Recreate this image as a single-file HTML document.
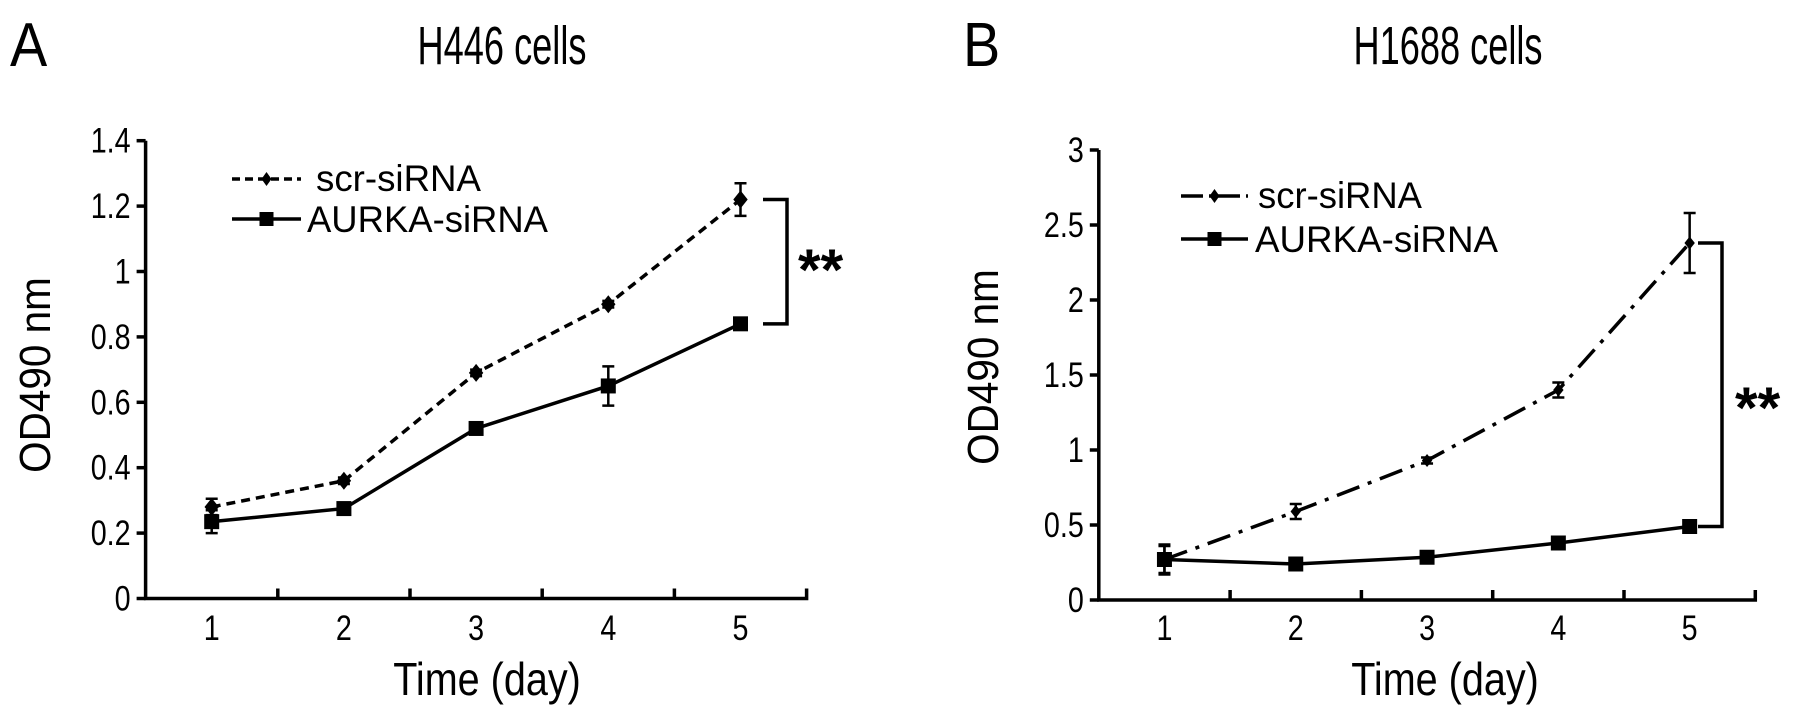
<!DOCTYPE html>
<html><head><meta charset="utf-8">
<style>
html,body{margin:0;padding:0;background:#fff;}
svg{display:block;font-family:"Liberation Sans",Arial,sans-serif;}
</style></head>
<body>
<svg id="fig" width="1795" height="717" viewBox="0 0 1795 717">
</svg>
<script>
// ---- data ----
const days = [1, 2, 3, 4, 5];
const aTicks = [0, 0.2, 0.4, 0.6, 0.8, 1, 1.2, 1.4];
const aTickLabels = ["0", "0.2", "0.4", "0.6", "0.8", "1", "1.2", "1.4"];
const aScr = [0.28, 0.36, 0.69, 0.90, 1.22];
const aScrErr = [0.025, 0.01, 0.01, 0.01, 0.05];
const aAur = [0.235, 0.275, 0.52, 0.65, 0.84];
const aAurErr = [0.035, 0.01, 0.01, 0.06, 0.01];
const bTicks = [0, 0.5, 1, 1.5, 2, 2.5, 3];
const bTickLabels = ["0", "0.5", "1", "1.5", "2", "2.5", "3"];
const bScr = [0.27, 0.59, 0.93, 1.40, 2.38];
const bScrErr = [0.1, 0.05, 0.02, 0.05, 0.2];
const bAur = [0.27, 0.24, 0.285, 0.38, 0.49];
const bAurErr = [0.09, 0.01, 0.01, 0.01, 0.01];

const NS = "http://www.w3.org/2000/svg";
const svg = document.getElementById("fig");
function mk(tag, attrs, parent) {
  const e = document.createElementNS(NS, tag);
  for (const k in attrs) e.setAttribute(k, attrs[k]);
  (parent || svg).appendChild(e);
  return e;
}
function txt(s, attrs, parent) { const t = mk("text", attrs, parent); t.textContent = s; return t; }
// condensed text: scaled horizontally around its anchor point
function ctxt(s, x, y, size, anchor, sx, parent) {
  return txt(s, {x: 0, y: 0, "font-size": size, "text-anchor": anchor, fill: "#000",
    transform: `translate(${x},${y}) scale(${sx},1)`}, parent);
}

function panel(cfg) {
  const g = mk("g", {});
  
  
  const x0 = cfg.x0, x1 = cfg.x1, y0 = cfg.y0, yTop = cfg.yTop, vmax = cfg.vmax;
  const n = days.length, step = (x1 - x0) / n;
  const X = d => x0 + (d - 0.5) * step;
  const Y = v => y0 - v / vmax * (y0 - yTop);

  // letter & title
  const L = ctxt(cfg.letter, cfg.letterX, 66, 62, "start", 0.9, g);
  
  
  const T = ctxt(cfg.title, cfg.titleX, 64, 54, "middle", 0.67, g);
  
  

  // axes
  const ax = mk("path", {d: `M${x0},${yTop} V${y0} H${x1} V${y0-10}`, stroke: "#000", "stroke-width": 3.5, fill: "none"}, g);
  
  
  cfg.ticks.forEach((v, i) => {
    mk("line", {x1: x0 - 9, x2: x0, y1: Y(v), y2: Y(v), stroke: "#000", "stroke-width": 3.5}, g);
    const t = ctxt(cfg.tickLabels[i], x0 - 15, Y(v) + 12, 35, "end", 0.82, g);
    
    
  });
  for (let i = 1; i < n; i++) {
    mk("line", {x1: x0 + i * step, x2: x0 + i * step, y1: y0, y2: y0 - 10, stroke: "#000", "stroke-width": 3.5}, g);
  }
  days.forEach(d => {
    const t = ctxt(String(d), X(d), 640, 35, "middle", 0.82, g);
    
    
  });
  const xt = ctxt("Time (day)", cfg.xTitleX, 695, 46, "middle", 0.86, g);
  
  
  const yt = txt("OD490 nm", {x: 0, y: 0, "font-size": 44, "text-anchor": "middle", fill: "#000", transform: `translate(${cfg.yTitleX},${cfg.yTitleY}) rotate(-90) scale(0.92,1)`}, g);
  
  

  // series
  function series(vals, errs, dash, marker, msize, name) {
    const sg = mk("g", {}, g);
    
    
    const pts = days.map((d, i) => `${X(d)},${Y(vals[i])}`).join(" ");
    const pl = mk("polyline", {points: pts, fill: "none", stroke: "#000", "stroke-width": 3.5}, sg);
    if (dash) pl.setAttribute("stroke-dasharray", dash);
    days.forEach((d, i) => {
      const cx = X(d), cy = Y(vals[i]);
      const eu = Y(vals[i] + errs[i]), el = Y(vals[i] - errs[i]);
      mk("path", {d: `M${cx},${eu}V${el}M${cx-6},${eu}H${cx+6}M${cx-6},${el}H${cx+6}`, stroke: "#000", "stroke-width": 2.5, fill: "none"}, sg);
      let m;
      if (marker === "square") {
        m = mk("rect", {x: cx - msize/2, y: cy - msize/2, width: msize, height: msize, fill: "#000"}, sg);
      } else {
        m = mk("path", {d: `M${cx},${cy-msize/2}L${cx+msize/2*0.8},${cy}L${cx},${cy+msize/2}L${cx-msize/2*0.8},${cy}Z`, fill: "#000"}, sg);
      }
      
      
    });
  }
  series(cfg.aur, cfg.aurErr, null, "square", 15, "aurka-sirna-series");
  series(cfg.scr, cfg.scrErr, cfg.dash, "diamond", cfg.dsize, "scr-sirna-series");

  // significance bracket
  const bx = cfg.bracketX, top = Y(cfg.scr[4]), bot = Y(cfg.aur[4]);
  const br = mk("path", {d: `M${bx-24},${top}H${bx}V${bot}H${bx-24}`, stroke: "#000", "stroke-width": 3.5, fill: "none"}, g);
  
  
  const st = txt("**", {x: cfg.starX, y: cfg.starY, "font-size": 58, "font-weight": "bold", fill: "#000"}, g);
  
  

  // legend
  const lg = mk("g", {}, g);
  
  
  const l = cfg.leg;
  const l1 = mk("line", {x1: l.lx1, x2: l.lx2, y1: l.y1 - 12, y2: l.y1 - 12, stroke: "#000", "stroke-width": 3.5}, lg);
  l1.setAttribute("stroke-dasharray", l.dash);
  mk("path", {d: `M${(l.lx1+l.lx2)/2},${l.y1-19}l5,7l-5,7l-5,-7z`, fill: "#000"}, lg);
  const e1 = txt("scr-siRNA", {x: l.tx1, y: l.y1, "font-size": 37, fill: "#000", textLength: l.w1, lengthAdjust: "spacingAndGlyphs"}, lg);
  
  
  mk("line", {x1: l.lx1, x2: l.lx2, y1: l.y2 - 13, y2: l.y2 - 13, stroke: "#000", "stroke-width": 3.5}, lg);
  mk("rect", {x: (l.lx1+l.lx2)/2 - 7, y: l.y2 - 20, width: 14, height: 14, fill: "#000"}, lg);
  const e2 = txt("AURKA-siRNA", {x: l.tx2, y: l.y2, "font-size": 37, fill: "#000", textLength: l.w2, lengthAdjust: "spacingAndGlyphs"}, lg);
  
  
}

panel({name: "panel-a-h446", letter: "A", letterX: 10, title: "H446 cells", titleX: 502,
  x0: 145.6, x1: 806.6, y0: 598.5, yTop: 140.7, vmax: 1.4, ticks: aTicks, tickLabels: aTickLabels,
  scr: aScr, scrErr: aScrErr, aur: aAur, aurErr: aAurErr, dash: "9 6", dsize: 18,
  xTitleX: 487, yTitleX: 50, yTitleY: 375, bracketX: 787, starX: 798, starY: 290,
  leg: {lx1: 232, lx2: 301, y1: 191, y2: 232, tx1: 316, w1: 165, tx2: 307, w2: 241, dash: "8 5"}});

panel({name: "panel-b-h1688", letter: "B", letterX: 963, title: "H1688 cells", titleX: 1448,
  x0: 1098.8, x1: 1755.3, y0: 600, yTop: 150, vmax: 3, ticks: bTicks, tickLabels: bTickLabels,
  scr: bScr, scrErr: bScrErr, aur: bAur, aurErr: bAurErr, dash: "24 9 4 9", dsize: 13,
  xTitleX: 1445, yTitleX: 998, yTitleY: 367, bracketX: 1722, starX: 1735, starY: 428,
  leg: {lx1: 1181, lx2: 1248, y1: 208, y2: 252, tx1: 1258, w1: 164, tx2: 1255, w2: 243, dash: "22 6 3 6"}});
</script>
</body></html>
